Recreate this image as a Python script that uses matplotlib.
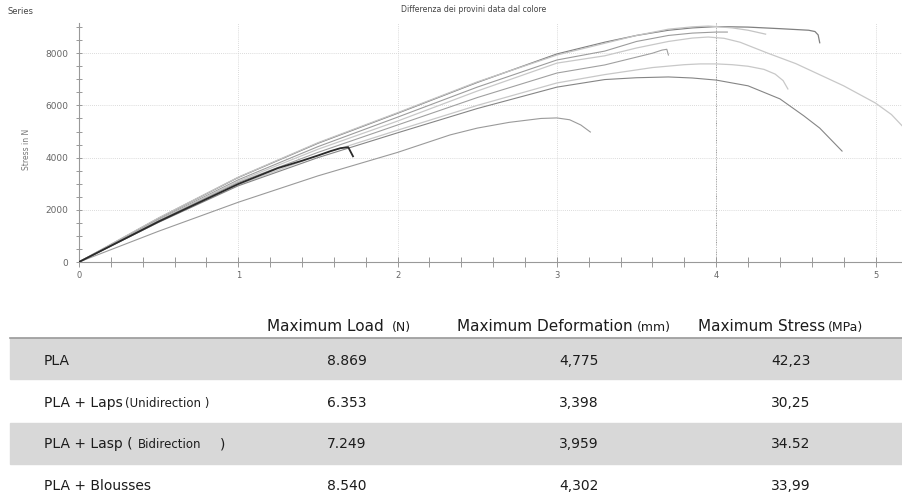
import matplotlib
matplotlib.use("Agg")
import matplotlib.pyplot as plt
from matplotlib.patches import Rectangle
from matplotlib.lines import Line2D
from matplotlib.ticker import MultipleLocator

# ====================================
# 1. CURVE DATA (deformation mm / stress N)
# ====================================

a_x = [0, 0.5, 1, 1.5, 2, 2.5, 3, 3.3, 3.5, 3.7, 3.85, 4.0, 4.2, 4.4, 4.58, 4.62, 4.64, 4.65]
a_y = [0, 1680, 3240, 4550, 5700, 6880, 7970, 8420, 8680, 8880, 8970, 9020, 9000, 8940, 8880, 8830, 8700, 8400]

b_x = [0, 0.5, 1, 1.5, 2, 2.5, 3, 3.3, 3.5, 3.7, 3.85, 3.95, 4.0, 4.1, 4.2, 4.31]
b_y = [0, 1690, 3250, 4570, 5720, 6900, 7930, 8380, 8680, 8920, 9010, 9040, 9020, 8970, 8880, 8730]

c_x = [0, 0.5, 1, 1.5, 2, 2.5, 3, 3.3, 3.5, 3.7, 3.85, 4.0, 4.07]
c_y = [0, 1630, 3150, 4420, 5550, 6700, 7740, 8080, 8450, 8680, 8770, 8810, 8810]

d_x = [0, 0.5, 1, 1.5, 2, 2.5, 3, 3.3, 3.5, 3.7, 3.85, 3.95, 4.05, 4.15, 4.32, 4.5, 4.8, 5.0, 5.1, 5.17]
d_y = [0, 1600, 3100, 4320, 5400, 6550, 7620, 7900, 8200, 8450, 8580, 8620, 8570, 8420, 8010, 7600, 6750, 6090, 5650, 5200]

e_x = [0, 0.5, 1, 1.5, 2, 2.5, 3, 3.3, 3.5, 3.6, 3.66, 3.69, 3.70]
e_y = [0, 1580, 3050, 4200, 5250, 6300, 7240, 7550, 7850, 8000, 8120, 8150, 7930]

f_x = [0, 0.5, 1, 1.5, 2, 2.5, 3, 3.3, 3.6, 3.8, 3.9, 4.0, 4.1, 4.2, 4.3, 4.37, 4.42, 4.45]
f_y = [0, 1540, 2960, 4080, 5050, 6000, 6860, 7180, 7450, 7560, 7590, 7590, 7560, 7500, 7380, 7200, 6950, 6630]

g_x = [0, 0.5, 1, 1.5, 2, 2.5, 3, 3.3, 3.5, 3.7, 3.85, 4.0, 4.2, 4.4, 4.55, 4.65, 4.79]
g_y = [0, 1520, 2920, 4000, 4950, 5880, 6700, 6990, 7060, 7090, 7050, 6970, 6750, 6250, 5600, 5130, 4250]

h_x = [0, 0.5, 1.0, 1.25, 1.4, 1.5, 1.58, 1.64, 1.69, 1.72]
h_y = [0, 1550, 2990, 3600, 3880, 4080, 4250, 4360, 4400, 4050]

i_x = [0, 0.5, 1, 1.5, 2, 2.33, 2.5, 2.7, 2.9, 3.0, 3.08, 3.15, 3.21]
i_y = [0, 1180, 2290, 3300, 4200, 4870, 5130, 5350, 5500, 5520, 5450, 5250, 4980]

# ====================================
# 2. TABLE DATA
# ====================================

col_titles = ["Maximum Load", "Maximum Deformation", "Maximum Stress"]
col_units = ["(N)", "(mm)", "(MPa)"]

row_names = ["PLA", "PLA + Laps", "PLA + Lasp (", "PLA + Blousses"]
row_notes = ["", "(Unidirection )", "Bidirection", ""]
row_tails = ["", "", ")", ""]

max_load = ["8.869", "6.353", "7.249", "8.540"]
max_deform = ["4,775", "3,398", "3,959", "4,302"]
max_stress = ["42,23", "30,25", "34.52", "33,99"]

# ====================================
# 3. FIGURE
# ====================================

W, H = 902, 504
fig = plt.figure(figsize=(W / 100, H / 100), dpi=100)


def fx(px):
    return px / W


def fy(py):
    return 1 - py / H


ax = fig.add_axes([fx(79), fy(262), 1 - fx(79), (262 - 23) / H])

curves = [
    (a_x, a_y, "#808080", 0.9),
    (b_x, b_y, "#c4c4c4", 0.9),
    (c_x, c_y, "#9c9c9c", 0.8),
    (d_x, d_y, "#c8c8c8", 0.9),
    (e_x, e_y, "#a0a0a0", 0.8),
    (f_x, f_y, "#c8c8c8", 0.9),
    (g_x, g_y, "#858585", 0.8),
    (i_x, i_y, "#9a9a9a", 0.8),
    (h_x, h_y, "#2a2a2a", 1.3),
]

for xs, ys, col, lw in curves:
    ax.plot(xs, ys, color=col, lw=lw, zorder=3, solid_joinstyle="round")

ax.set_xlim(0, (W - 79) / 159.3)
ax.set_ylim(0, (262 - 23) / 26.1 * 1000)

ax.xaxis.set_major_locator(MultipleLocator(1))
ax.xaxis.set_minor_locator(MultipleLocator(0.2))
ax.yaxis.set_major_locator(MultipleLocator(2000))
ax.yaxis.set_minor_locator(MultipleLocator(500))

ax.tick_params(axis="x", which="both", direction="inout", length=6.5,
               width=0.7, color="#999999", labelsize=6, labelcolor="#666666", pad=3)
ax.tick_params(axis="y", which="both", direction="inout", length=5,
               width=0.7, color="#999999", labelsize=6.5, labelcolor="#666666", pad=5)

for s in ["top", "right"]:
    ax.spines[s].set_visible(False)
for s in ["left", "bottom"]:
    ax.spines[s].set_color("#999999")
    ax.spines[s].set_linewidth(0.8)

ax.grid(True, which="major", linestyle=(0, (1, 1.5)), color="#cfcfcf", lw=0.6, zorder=0)
# the gridline at 4 mm is drawn darker in the original
ax.axvline(4, linestyle=(0, (1, 1.5)), color="#8a8a8a", lw=0.7, zorder=1)

ax.set_ylabel("Stress in N", fontsize=5.5, color="#777777")
ax.yaxis.set_label_coords(-0.058, 0.47)

fig.text(fx(8), fy(11), "Series", fontsize=6, color="#444444", va="center")
fig.text(fx(474), fy(10), "Differenza dei provini data dal colore",
         fontsize=5.6, color="#444444", ha="center", va="center")

# ====================================
# 4. TABLE
# ====================================

band_rows = [(338, 379), (423, 464)]
for top, bottom in band_rows:
    fig.patches.append(Rectangle((fx(10), fy(bottom)), 1 - fx(10), (bottom - top) / H,
                                 transform=fig.transFigure, color="#d8d8d8", zorder=0))

fig.lines.append(Line2D([fx(10), 1], [fy(338), fy(338)], transform=fig.transFigure,
                        color="#9a9a9a", lw=1.2))

txt = "#1c1c1c"
title_x = [267, 457, 698]
unit_x = [392, 637, 828]
for t, u, tx, ux in zip(col_titles, col_units, title_x, unit_x):
    fig.text(fx(tx), fy(331), t, fontsize=11, color=txt, va="baseline")
    fig.text(fx(ux), fy(331), u, fontsize=9, color=txt, va="baseline")

row_base = [365, 407, 448, 490]
note_x = [0, 125, 138, 0]
tail_x = [0, 0, 220, 0]
for k, base in enumerate(row_base):
    fig.text(fx(44), fy(base), row_names[k], fontsize=10, color=txt, va="baseline")
    if row_notes[k]:
        fig.text(fx(note_x[k]), fy(base), row_notes[k], fontsize=8.5, color=txt, va="baseline")
    if row_tails[k]:
        fig.text(fx(tail_x[k]), fy(base), row_tails[k], fontsize=10, color=txt, va="baseline")
    fig.text(fx(347), fy(base), max_load[k], fontsize=10, color=txt, ha="center", va="baseline")
    fig.text(fx(579), fy(base), max_deform[k], fontsize=10, color=txt, ha="center", va="baseline")
    fig.text(fx(791), fy(base), max_stress[k], fontsize=10, color=txt, ha="center", va="baseline")

fig.savefig("out.png", dpi=100)
